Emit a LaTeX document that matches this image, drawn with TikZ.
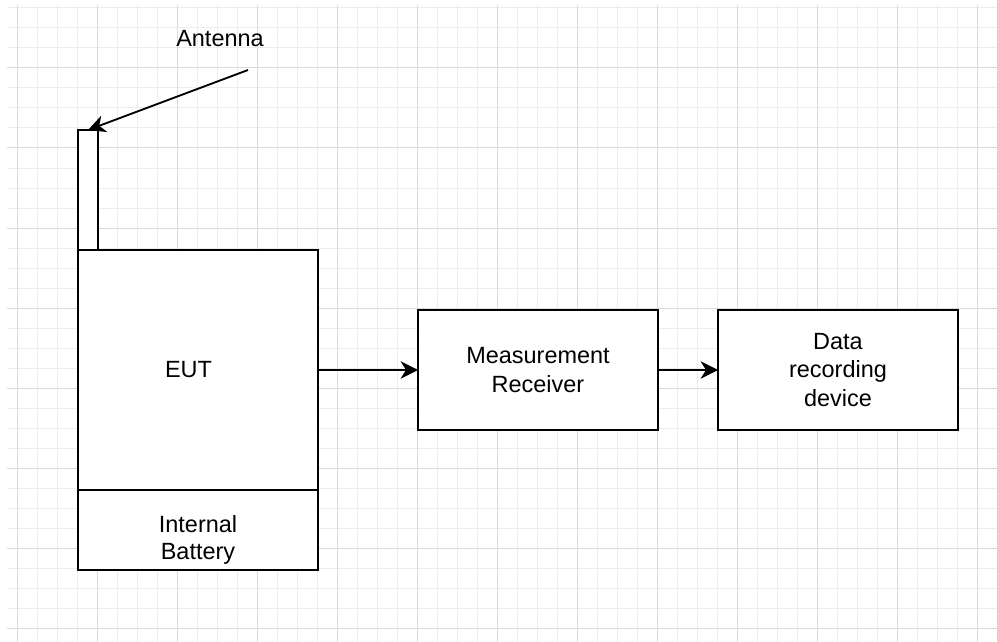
\documentclass[tikz,border=0pt]{standalone}
\usepackage{fontspec}
\setmainfont{Liberation Sans}
\usetikzlibrary{arrows.meta}
\begin{document}
\begin{tikzpicture}[x=0.75pt,y=-0.75pt,
  box/.style={draw=black,line width=1.4pt,fill=white,inner sep=0pt,outer sep=0pt,
    align=center,font=\fontsize{17.6pt}{21.5pt}\selectfont},
  lbl/.style={inner sep=0pt,align=center,font=\fontsize{17.6pt}{21pt}\selectfont},
  conn/.style={draw=black,line width=1.4pt,
    -{Stealth[length=13pt,width=13pt,inset=4pt]}},
  minorgrid/.style={draw=black!7,line width=0.75pt},
  majorgrid/.style={draw=black!14,line width=0.75pt}]
\useasboundingbox[fill=white] (0,0) rectangle (997,642);
% grid
\foreach \i in {0,...,49} {\draw[minorgrid] (17+20*\i,5) -- (17+20*\i,642);}
\foreach \i in {0,...,31} {\draw[minorgrid] (7,8+20*\i) -- (997,8+20*\i);}
\foreach \i in {0,...,12} {\draw[majorgrid] (17+80*\i,5) -- (17+80*\i,642);}
\foreach \i in {0,...,7} {\draw[majorgrid] (7,68+80*\i) -- (997,68+80*\i);}
% shapes
\node[box,minimum width=15pt,minimum height=90pt] (ant) at (88,190) {};
\node[box,minimum width=180pt,minimum height=180pt] (eut) at (198,370) {};
\node[lbl] (eutlbl) at (188.5,370) {EUT};
\node[box,minimum width=180pt,minimum height=60pt] (bat) at (198,530) {};
\node[lbl,font=\fontsize{17.6pt}{20.5pt}\selectfont] (batlbl) at (198,540) {Internal\\Battery};
\node[box,minimum width=180pt,minimum height=90pt] (mr) at (538,370) {Measurement\\Receiver};
\node[box,minimum width=180pt,minimum height=90pt] (drd) at (838,370) {Data\\recording\\device};
\node[lbl] (antlbl) at (220,39) {Antenna};
\coordinate (antstart) at (248,70);
% connectors
\draw[conn] (antstart) -- (ant.north);
\draw[conn] (eut.east) -- (mr.west);
\draw[conn] (mr.east) -- (drd.west);
\end{tikzpicture}
\end{document}
